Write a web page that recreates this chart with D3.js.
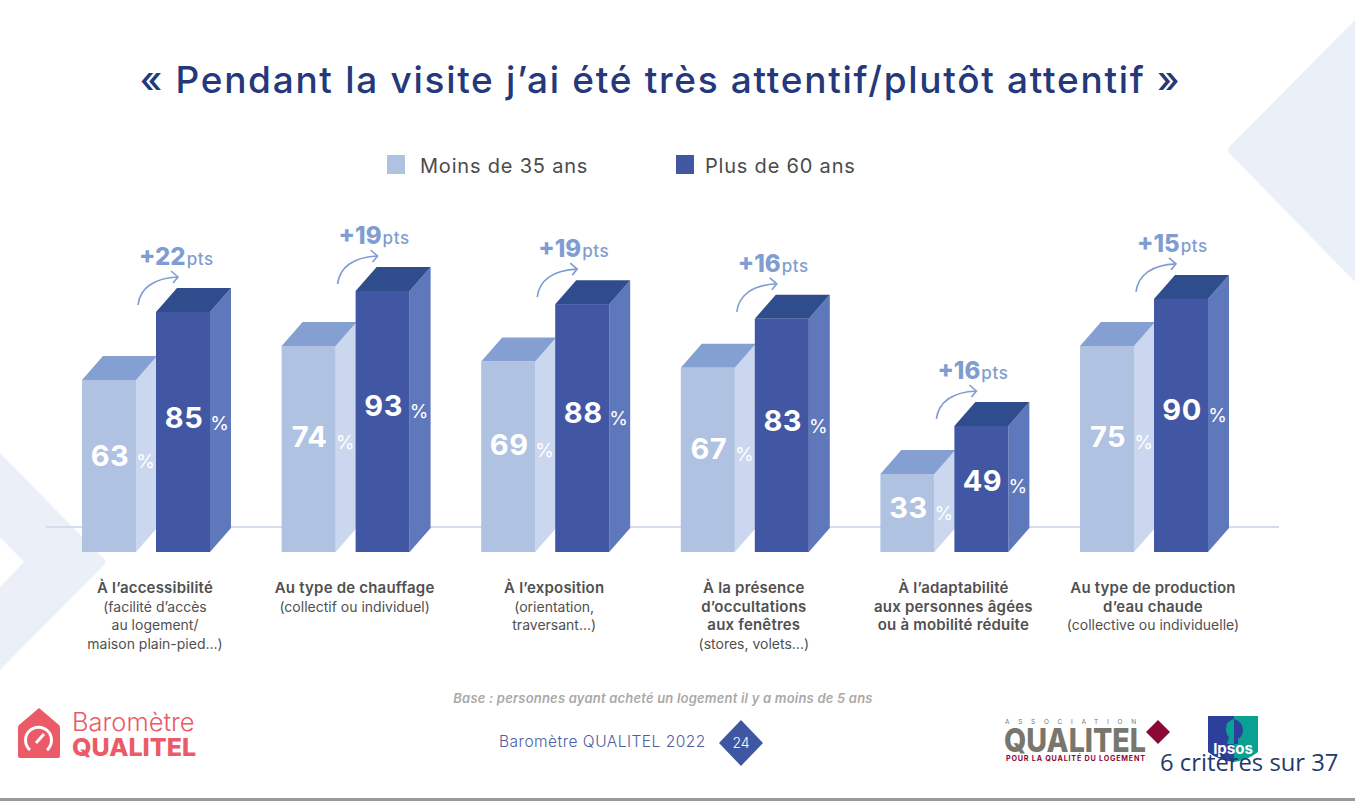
<!DOCTYPE html>
<html>
<head>
	<meta charset="utf-8">
	<title>Baromètre QUALITEL 2022</title>
	<script src="https://cdn.jsdelivr.net/npm/d3@7"></script>
	<style>
		*{
			padding: 0;
			margin: 0;
		}
		body{
			background: #fff;
		}
		svg{
			display: block;
			font-family: Inter, sans-serif;
		}
	</style>
</head>
<body>
	<svg width="1355" height="801"></svg>
	<script type="text/javascript">
		var titleText = "« Pendant la visite j’ai été très attentif/plutôt attentif »";
		var categories = ["accessibilite", "chauffage", "exposition", "occultations", "adaptabilite", "eauChaude"];
		var seriesNames = ["Moins de 35 ans", "Plus de 60 ans"];
		var youngValues = [63, 74, 69, 67, 33, 75];
		var seniorValues = [85, 93, 88, 83, 49, 90];
		var deltas = [22, 19, 19, 16, 16, 15];
		var boldLines = [
			["À l’accessibilité"],
			["Au type de chauffage"],
			["À l’exposition"],
			["À la présence", "d’occultations", "aux fenêtres"],
			["À l’adaptabilité", "aux personnes âgées", "ou à mobilité réduite"],
			["Au type de production", "d’eau chaude"]
		];
		var plainLines = [
			["(facilité d’accès", "au logement/", "maison plain-pied...)"],
			["(collectif ou individuel)"],
			["(orientation,", "traversant...)"],
			["(stores, volets...)"],
			[],
			["(collective ou individuelle)"]
		];
		var baseText = "Base : personnes ayant acheté un logement il y a moins de 5 ans";
		var footerText = "Baromètre QUALITEL 2022";
		var pageNumber = "24";
		var noteText = "6 critères sur 37";

		var frontW = 54,
			depthX = 21,
			depthY = 24,
			floorY = 552;

		// the bars of the original are not strictly proportional, so the scale has several segments
		var yScale = d3.scaleLinear()
			.domain([0, 33, 49, 63, 74, 75, 85, 93])
			.range([floorY, 474, 426, 380, 346, 346, 312, 291]);
		var groupX = d3.scalePoint().domain(categories).range([82, 1080]);
		var seriesX = d3.scaleBand().domain(seriesNames).range([0, 148]);

		var colors = {};
		colors[seriesNames[0]] = {front: "#afc2e2", side: "#cbd7ee", top: "#84a0d3"};
		colors[seriesNames[1]] = {front: "#4157a3", side: "#5f78bb", top: "#2f4d8d"};
		var accent = "#7f9dd0";

		var svg = d3.select("svg");

		//background shapes
		var bg = svg.append("g").attr("fill", "#ebf0f8");
		bg.append("path").attr("d", "M1355,20L1230,146Q1226,150 1230,154L1355,282Z");
		bg.append("path").attr("d", "M0,453L104,559Q107,562 104,565L0,670V587L24,562L0,537Z");

		svg.append("text")
			.attr("x", 660.5).attr("y", 93)
			.attr("text-anchor", "middle")
			.attr("font-size", 37)
			.attr("font-weight", 500)
			.attr("letter-spacing", 1.7)
			.attr("fill", "#24387a")
			.text(titleText);

		//legend
		var legend = svg.selectAll(".legend")
			.data(seriesNames)
			.enter().append("g")
			.attr("class", "legend")
			.attr("transform", function (d, i) {
				return "translate(" + (i == 0 ? 387 : 676) + ",155)";
			});
		legend.append("rect")
			.attr("width", 18).attr("height", 19)
			.attr("fill", function (d) { return colors[d].front; });
		legend.append("text")
			.attr("x", function (d, i) { return i == 0 ? 33 : 29; })
			.attr("y", 18)
			.attr("font-size", 20)
			.attr("letter-spacing", 0.8)
			.attr("fill", "#4b4b4b")
			.text(function (d) { return d; });

		//floor line
		svg.append("line")
			.attr("x1", 46).attr("x2", 1279)
			.attr("y1", 527).attr("y2", 527)
			.attr("stroke", "#d5dcee").attr("stroke-width", 2);

		function drawBar(g, name, value) {
			var c = colors[name],
				x = seriesX(name),
				top = yScale(value),
				h = floorY - top,
				labelY = top + h * 0.44;
			g.append("path")
				.attr("fill", c.side)
				.attr("d", "M" + (x + frontW) + "," + top + "l" + depthX + "," + (-depthY) + "V" + (floorY - depthY) + "l" + (-depthX) + "," + depthY + "Z");
			g.append("path")
				.attr("fill", c.top)
				.attr("d", "M" + x + "," + top + "l" + depthX + "," + (-depthY) + "h" + frontW + "l" + (-depthX) + "," + depthY + "Z");
			g.append("rect")
				.attr("x", x).attr("y", top)
				.attr("width", frontW).attr("height", h)
				.attr("fill", c.front);
			g.append("text")
				.attr("x", x + frontW / 2 + 1).attr("y", labelY + 10)
				.attr("text-anchor", "middle")
				.attr("font-size", 29).attr("font-weight", 700)
				.attr("letter-spacing", 0.5)
				.attr("fill", "#fff")
				.text(value);
			g.append("text")
				.attr("x", x + frontW + depthX / 2 - 1).attr("y", labelY + 12)
				.attr("text-anchor", "middle")
				.attr("font-size", 19)
				.attr("fill", "#fff")
				.text("%");
		}

		var groups = svg.selectAll(".group")
			.data(categories)
			.enter().append("g")
			.attr("class", "group")
			.attr("transform", function (d) { return "translate(" + groupX(d) + ",0)"; });

		groups.each(function (d, i) {
			var g = d3.select(this),
				darkX = seriesX(seriesNames[1]),
				top = yScale(seniorValues[i]);
			drawBar(g, seriesNames[0], youngValues[i]);
			drawBar(g, seriesNames[1], seniorValues[i]);

			//delta arrow
			var arrow = g.append("g")
				.attr("transform", "translate(" + darkX + "," + top + ")")
				.attr("fill", "none")
				.attr("stroke", accent)
				.attr("stroke-width", 1.6);
			arrow.append("path").attr("d", "M-18,-7C-16,-24 -2,-34 22,-35");
			arrow.append("path").attr("d", "M15,-41L22,-35L17,-29");

			var delta = g.append("text")
				.attr("x", darkX - 17).attr("y", top - 47)
				.attr("fill", accent);
			delta.append("tspan")
				.attr("font-size", 24).attr("font-weight", 800)
				.text("+" + deltas[i]);
			delta.append("tspan")
				.attr("dx", 1)
				.attr("font-size", 17).attr("font-weight", 500)
				.attr("letter-spacing", 0.6)
				.text("pts");

			//category label
			var lines = boldLines[i].map(function (t) { return {t: t, bold: true}; })
				.concat(plainLines[i].map(function (t) { return {t: t, bold: false}; }));
			g.selectAll(".label")
				.data(lines)
				.enter().append("text")
				.attr("class", "label")
				.attr("x", 73)
				.attr("y", function (l, j) { return 593 + j * 18.6; })
				.attr("text-anchor", "middle")
				.attr("font-size", function (l) { return l.bold ? 15 : 14; })
				.attr("font-weight", function (l) { return l.bold ? 600 : 400; })
				.attr("letter-spacing", function (l) { return l.bold ? 0.2 : 0; })
				.attr("fill", "#505050")
				.text(function (l) { return l.t; });
		});

		//footer
		svg.append("text")
			.attr("x", 663).attr("y", 703)
			.attr("text-anchor", "middle")
			.attr("font-size", 13).attr("font-style", "italic").attr("font-weight", 600)
			.attr("letter-spacing", 0.2)
			.attr("fill", "#a9a9a9")
			.text(baseText);
		svg.append("text")
			.attr("x", 499).attr("y", 747)
			.attr("font-size", 15.5).attr("font-weight", 300)
			.attr("letter-spacing", 0.5)
			.attr("fill", "#4e5ea0")
			.text(footerText);
		svg.append("path").attr("d", "M741,720L763,743L741,766L719,743Z").attr("fill", "#3f57a3");
		svg.append("text")
			.attr("x", 741).attr("y", 748)
			.attr("text-anchor", "middle")
			.attr("font-size", 14).attr("font-weight", 300)
			.attr("fill", "#fff")
			.text(pageNumber);

		//Barometre logo
		var coral = "#ec5a68";
		svg.append("path")
			.attr("d", "M39,708L59,725Q60,726 60,728V756Q60,758 58,758H20Q18,758 18,756V728Q18,726 19,725Z")
			.attr("fill", coral);
		svg.append("path")
			.attr("d", "M30,750A13,13 0 1 1 47,750")
			.attr("fill", "none").attr("stroke", "#fff").attr("stroke-width", 3);
		svg.append("path")
			.attr("d", "M36,743L44,734")
			.attr("stroke", "#fff").attr("stroke-width", 3);
		svg.append("text")
			.attr("x", 72).attr("y", 731)
			.attr("font-size", 25.5).attr("font-weight", 300)
			.attr("fill", coral)
			.text("Baromètre");
		svg.append("text")
			.attr("x", 72).attr("y", 756)
			.attr("font-size", 25).attr("font-weight", 800)
			.attr("fill", coral)
			.text("QUALITEL");

		//Association Qualitel logo
		svg.append("text")
			.attr("x", 1005).attr("y", 724)
			.attr("font-size", 6.5).attr("letter-spacing", 8.7)
			.attr("fill", "#77776d")
			.text("ASSOCIATION");
		svg.append("text")
			.attr("x", 1004).attr("y", 752)
			.attr("font-size", 33).attr("font-weight", 800)
			.attr("textLength", 142).attr("lengthAdjust", "spacingAndGlyphs")
			.attr("fill", "#77776d")
			.text("QUALITEL");
		svg.append("text")
			.attr("x", 1006).attr("y", 761)
			.attr("font-size", 7.2).attr("font-weight", 700)
			.attr("textLength", 139)
			.attr("fill", "#8a0a35")
			.text("POUR LA QUALITÉ DU LOGEMENT");
		svg.append("path").attr("d", "M1158,720L1170,732L1158,744L1146,732Z").attr("fill", "#8a0a35");

		//Ipsos logo
		svg.append("path").attr("d", "M1208,716H1234V762Q1218,760 1208,752Z").attr("fill", "#2b3f9b");
		svg.append("path").attr("d", "M1234,716H1258V752Q1248,760 1234,762Z").attr("fill", "#0aa195");
		svg.append("path").attr("d", "M1234,719Q1226,721 1226,729Q1226,734 1229,737L1227,744H1234Z").attr("fill", "#0aa195");
		svg.append("path").attr("d", "M1234,719Q1243,722 1243,730Q1243,736 1238,739L1238,744H1234Z").attr("fill", "#2b3f9b");
		svg.append("text")
			.attr("x", 1233).attr("y", 754)
			.attr("text-anchor", "middle")
			.attr("font-size", 15).attr("font-weight", 700)
			.attr("fill", "#fff")
			.text("Ipsos");

		svg.append("text")
			.attr("x", 1160).attr("y", 771)
			.attr("font-family", "Open Sans, sans-serif")
			.attr("font-size", 23.8)
			.attr("fill", "#1f3a6e")
			.text(noteText);

		svg.append("rect")
			.attr("x", 0).attr("y", 798)
			.attr("width", 1355).attr("height", 3)
			.attr("fill", "#9a9a9a");
	</script>
</body>
</html>
